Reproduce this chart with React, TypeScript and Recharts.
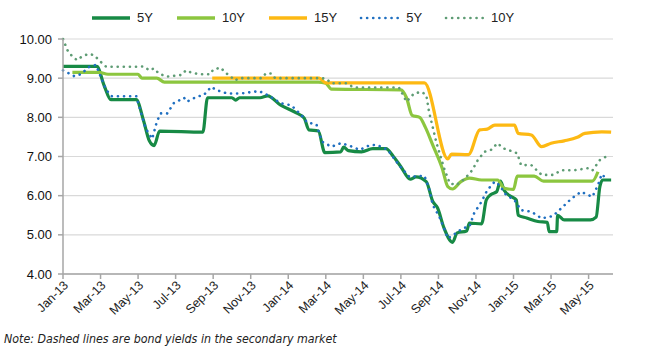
import { CartesianGrid, Line, LineChart, XAxis, YAxis } from "recharts";

// month offsets from Jan-13, yield in %
const primary5Y: [number, number][] = [
  [0, 9.3], [1.8, 9.3], [2.2, 8.8], [2.55, 8.45], [3.9, 8.45], [4.3, 7.9], [4.6, 7.4],
  [4.85, 7.28], [5.15, 7.65], [7.45, 7.62], [7.7, 8.5], [9.0, 8.5], [9.2, 8.44],
  [9.4, 8.5], [10.5, 8.5], [10.9, 8.55], [11.6, 8.31], [12.4, 8.12], [12.85, 7.98],
  [13.1, 7.68], [13.6, 7.65], [13.95, 7.1], [14.8, 7.12], [14.95, 7.24], [15.2, 7.15],
  [15.9, 7.12], [16.5, 7.2], [17.2, 7.2], [17.6, 7.0], [18.0, 6.74], [18.5, 6.42],
  [18.8, 6.48], [19.35, 6.36], [19.7, 5.85], [19.95, 5.69], [20.3, 5.17], [20.75, 4.81],
  [21.0, 5.05], [21.5, 5.1], [21.65, 5.3], [22.3, 5.28], [22.55, 5.89], [22.8, 6.03],
  [23.1, 6.1], [23.3, 6.37], [23.5, 6.14], [23.9, 5.97], [24.15, 5.89], [24.25, 5.5],
  [24.7, 5.43], [25.3, 5.34], [25.8, 5.32], [25.9, 5.08], [26.3, 5.08], [26.35, 5.5],
  [26.7, 5.38], [28.1, 5.38], [28.4, 5.45], [28.6, 6.23], [28.75, 6.4], [29.2, 6.4],
];

const primary10Y: [number, number][] = [
  [0.5, 9.15], [1.9, 9.15], [2.4, 9.1], [4.0, 9.1], [4.2, 9.0], [5.0, 9.0], [5.4, 8.9],
  [13.6, 8.9], [14.0, 8.87], [14.3, 8.72], [18.0, 8.7], [18.3, 8.5], [18.6, 8.05],
  [19.0, 8.0], [19.3, 7.75], [19.7, 7.29], [20.2, 6.7], [20.5, 6.23], [20.75, 6.17],
  [21.2, 6.36], [21.65, 6.45], [22.3, 6.4], [23.15, 6.4], [23.5, 6.19], [24.0, 6.16],
  [24.2, 6.5], [25.1, 6.5], [25.6, 6.37], [28.2, 6.37], [28.5, 6.61],
];

const primary15Y: [number, number][] = [
  [7.95, 9.0], [13.65, 9.0], [14.0, 8.88], [19.25, 8.88], [20.5, 6.94], [20.7, 7.06],
  [21.6, 7.05], [22.2, 7.68], [22.6, 7.7], [23.0, 7.8], [24.05, 7.8], [24.25, 7.59],
  [24.95, 7.55], [25.5, 7.25], [26.0, 7.34], [26.7, 7.4], [27.4, 7.49], [27.8, 7.59],
  [28.7, 7.63], [29.2, 7.62],
];

const secondary5Y: [number, number][] = [
  [0, 9.2], [0.6, 9.05], [0.95, 9.1], [1.4, 9.29], [1.75, 9.34], [2.3, 8.7], [2.6, 8.54],
  [3.9, 8.54], [4.4, 7.72], [4.75, 7.45], [5.0, 7.89], [5.2, 8.1], [5.55, 8.1],
  [5.9, 8.36], [6.45, 8.5], [6.6, 8.4], [7.15, 8.53], [7.5, 8.57], [7.9, 8.78],
  [8.15, 8.7], [8.75, 8.61], [9.5, 8.61], [10.45, 8.67], [10.9, 8.57], [11.6, 8.36],
  [12.15, 8.31], [12.7, 8.06], [13.0, 7.87], [13.5, 7.82], [13.8, 7.38], [14.3, 7.25],
  [14.8, 7.34], [15.25, 7.28], [15.8, 7.17], [16.3, 7.28], [16.7, 7.3], [17.3, 7.17],
  [17.9, 6.78], [18.45, 6.48], [19.25, 6.51], [19.5, 6.19], [19.7, 5.76], [20.05, 5.46],
  [20.3, 5.17], [20.5, 4.91], [20.8, 5.0], [21.3, 5.17], [21.65, 5.21], [21.9, 5.55],
  [22.3, 5.85], [22.6, 6.14], [23.0, 6.36], [23.25, 6.27], [23.6, 6.02], [24.05, 5.89],
  [24.4, 5.63], [24.95, 5.59], [25.5, 5.42], [26.1, 5.48], [26.55, 5.68], [27.1, 5.93],
  [27.6, 6.1], [28.2, 5.97], [28.5, 6.27], [28.7, 6.55], [29.0, 6.4],
];

const secondary10Y: [number, number][] = [
  [0, 10.0], [0.23, 9.72], [0.5, 9.55], [0.75, 9.46], [1.0, 9.55], [1.35, 9.62],
  [1.65, 9.59], [2.0, 9.42], [2.3, 9.29], [3.9, 9.29], [4.3, 9.3], [4.6, 9.2],
  [4.85, 9.25], [5.1, 9.12], [5.5, 9.04], [5.75, 9.05], [6.3, 9.08], [6.55, 9.2],
  [6.8, 9.15], [7.25, 9.1], [7.85, 9.1], [8.0, 9.22], [8.4, 9.27], [8.65, 9.14],
  [8.9, 9.06], [9.15, 8.94], [9.4, 9.0], [10.6, 9.0], [10.8, 9.12], [11.1, 9.12],
  [11.3, 9.0], [13.6, 9.0], [14.0, 8.99], [14.3, 8.87], [15.1, 8.87], [15.5, 8.76],
  [17.9, 8.76], [18.3, 8.4], [18.7, 8.61], [19.1, 8.65], [19.35, 8.57], [19.5, 8.14],
  [19.9, 7.34], [20.3, 6.7], [20.6, 6.32], [20.95, 6.27], [21.4, 6.43], [21.8, 6.65],
  [22.1, 6.91], [22.45, 7.12], [22.8, 7.17], [23.15, 7.34], [23.45, 7.21], [24.0, 7.12],
  [24.2, 7.08], [24.4, 6.78], [24.95, 6.78], [25.5, 6.53], [26.1, 6.53], [26.55, 6.65],
  [27.25, 6.65], [27.95, 6.7], [28.2, 6.64], [28.6, 6.91], [28.95, 7.0],
];

const monthTicks = [0, 2, 4, 6, 8, 10, 12, 14, 16, 18, 20, 22, 24, 26, 28];
const monthLabels = [
  "Jan-13", "Mar-13", "May-13", "Jul-13", "Sep-13", "Nov-13", "Jan-14", "Mar-14",
  "May-14", "Jul-14", "Sep-14", "Nov-14", "Jan-15", "Mar-15", "May-15",
];
const yTicks = [4, 5, 6, 7, 8, 9, 10];

const FONT = "'Liberation Sans', Arial, Helvetica, sans-serif";

const series = [
  { key: "p5", name: "5Y", points: primary5Y, color: "#178a45", dotted: false },
  { key: "p10", name: "10Y", points: primary10Y, color: "#8cc63f", dotted: false },
  { key: "p15", name: "15Y", points: primary15Y, color: "#fdb913", dotted: false },
  { key: "s5", name: "5Y", points: secondary5Y, color: "#1f6fc0", dotted: true },
  { key: "s10", name: "10Y", points: secondary10Y, color: "#5e9c74", dotted: true },
];

const toRows = (pts: [number, number][]) => pts.map(([m, v]) => ({ m, v }));

function MonthTick({ x, y, payload }: any) {
  const i = monthTicks.indexOf(payload.value);
  const ax = x + 6;
  const ay = y + 7;
  return (
    <text
      x={ax}
      y={ay}
      textAnchor="end"
      transform={`rotate(-45 ${ax} ${ay})`}
      fontSize={12.5}
      fontFamily={FONT}
      fill="#222"
    >
      {monthLabels[i]}
    </text>
  );
}

function LegendRow() {
  return (
    <div
      style={{
        position: "absolute",
        top: 10,
        left: 90,
        display: "flex",
        alignItems: "center",
        fontFamily: FONT,
        fontSize: 13,
        color: "#222",
      }}
    >
      {series.map((s) => (
        <div key={s.key} style={{ display: "flex", alignItems: "center", marginRight: 22 }}>
          <svg width={42} height={8}>
            <line
              x1={2}
              x2={40}
              y1={4}
              y2={4}
              stroke={s.color}
              strokeWidth={s.dotted ? 2.6 : 3.5}
              strokeDasharray={s.dotted ? "0.1 6" : undefined}
              strokeLinecap={s.dotted ? "round" : "butt"}
            />
          </svg>
          <span style={{ marginLeft: 5 }}>{s.name}</span>
        </div>
      ))}
    </div>
  );
}

export default function App() {
  return (
    <div style={{ position: "absolute", left: 0, top: 0, width: 650, height: 364, background: "#fff" }}>
      <LegendRow />
      <LineChart
        width={650}
        height={364}
        margin={{ top: 39, right: 37, bottom: 40, left: 13 }}
      >
        <CartesianGrid horizontal vertical={false} stroke="#d9d9d9" strokeWidth={1.2} />
        <XAxis
          type="number"
          dataKey="m"
          domain={[0, 29.3]}
          ticks={monthTicks}
          interval={0}
          allowDuplicatedCategory={false}
          tick={<MonthTick />}
          tickSize={5}
          tickMargin={0}
          height={50}
          stroke="#a6a6a6"
          strokeWidth={1.5}
        />
        <YAxis
          type="number"
          domain={[4, 10]}
          ticks={yTicks}
          interval={0}
          width={50}
          tickSize={5}
          tickMargin={6}
          tickFormatter={(v: number) => v.toFixed(2)}
          tick={{ fill: "#111", fontSize: 13, fontFamily: FONT }}
          stroke="#a6a6a6"
          strokeWidth={1.5}
        />
        {series.map((s) => (
          <Line
            key={s.key}
            data={toRows(s.points)}
            dataKey="v"
            name={s.name}
            type={s.dotted ? "linear" : "monotone"}
            stroke={s.color}
            strokeWidth={s.dotted ? 2.6 : 3.2}
            strokeDasharray={s.dotted ? "0.1 6" : undefined}
            strokeLinecap={s.dotted ? "round" : "butt"}
            dot={false}
            activeDot={false}
            isAnimationActive={false}
          />
        ))}
      </LineChart>
      <div
        style={{
          position: "absolute",
          left: 4,
          top: 332,
          fontFamily: "'Liberation Sans Narrow', 'DejaVu Sans Condensed', Arial, sans-serif",
          fontStyle: "italic",
          fontSize: 12.3,
          color: "#222",
          whiteSpace: "nowrap",
        }}
      >
        Note: Dashed lines are bond yields in the secondary market
      </div>
    </div>
  );
}
